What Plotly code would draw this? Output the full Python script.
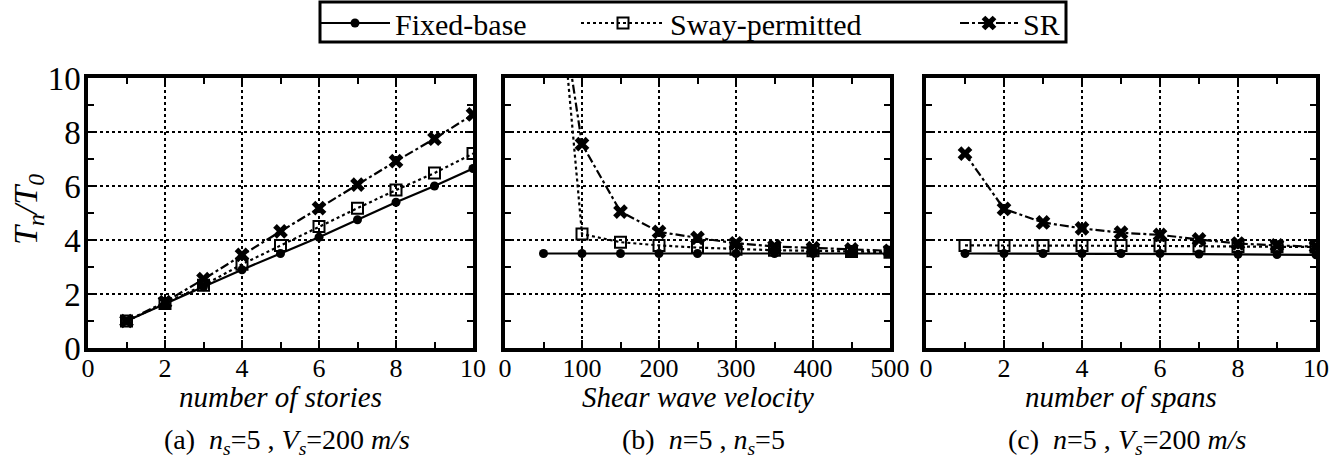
import plotly.graph_objects as go
from plotly.subplots import make_subplots

# ---------------- data ----------------
stories = [1, 2, 3, 4, 5, 6, 7, 8, 9, 10]
a_fixed = [1.0, 1.62, 2.27, 2.9, 3.5, 4.1, 4.75, 5.4, 6.0, 6.65]
a_sway = [1.0, 1.65, 2.32, 3.1, 3.8, 4.5, 5.18, 5.85, 6.48, 7.2]
a_sr = [1.0, 1.7, 2.55, 3.45, 4.32, 5.18, 6.05, 6.92, 7.75, 8.65]

vs = [50, 100, 150, 200, 250, 300, 350, 400, 450, 500]
b_fixed = [3.5, 3.5, 3.5, 3.5, 3.5, 3.5, 3.5, 3.5, 3.5, 3.5]
b_sway = [20.0, 4.22, 3.92, 3.8, 3.72, 3.66, 3.62, 3.6, 3.57, 3.55]
b_sr = [17.0, 7.55, 5.05, 4.3, 4.08, 3.88, 3.76, 3.7, 3.65, 3.6]

spans = [1, 2, 3, 4, 5, 6, 7, 8, 9, 10]
c_fixed = [3.5, 3.5, 3.5, 3.5, 3.5, 3.5, 3.48, 3.47, 3.46, 3.45]
c_sway = [3.8, 3.8, 3.8, 3.8, 3.8, 3.78, 3.77, 3.76, 3.75, 3.74]
c_sr = [7.2, 5.15, 4.65, 4.43, 4.27, 4.19, 4.02, 3.87, 3.8, 3.75]

series_names = ["Fixed-base", "Sway-permitted", "SR"]
captions = [
    "(a)  <i>n<sub>s</sub></i>=5 , <i>V<sub>s</sub></i>=200 <i>m/s</i>",
    "(b)  <i>n</i>=5 , <i>n<sub>s</sub></i>=5",
    "(c)  <i>n</i>=5 , <i>V<sub>s</sub></i>=200 <i>m/s</i>",
]
xtitles = ["number of stories", "Shear wave velocity", "number of spans"]

FONT = "Liberation Serif"
W, H = 1334, 463

fig = make_subplots(rows=1, cols=3)

styles = [
    dict(line=dict(color="black", width=2.2, dash="solid"),
         marker=dict(symbol="circle", size=9, color="black")),
    dict(line=dict(color="black", width=2.2, dash="dot"),
         marker=dict(symbol="square-open", size=11, color="black", line=dict(width=2))),
    dict(line=dict(color="black", width=2.2, dash="dashdot"),
         marker=dict(symbol="x", size=13, color="black", line=dict(width=0))),
]
legend_ids = ["legend", "legend2", "legend3"]

panels = [
    (stories, [a_fixed, a_sway, a_sr]),
    (vs, [b_fixed, b_sway, b_sr]),
    (spans, [c_fixed, c_sway, c_sr]),
]

for col, (xs, ys_list) in enumerate(panels, start=1):
    for k, ys in enumerate(ys_list):
        fig.add_trace(
            go.Scatter(x=xs, y=ys, mode="lines+markers", name=series_names[k],
                       showlegend=(col == 1), legend=legend_ids[k], **styles[k]),
            row=1, col=col,
        )

# pixel geometry -> paper domains
xdoms = [(88, 473), (505, 890), (926, 1316)]
ytop, ybot = 78, 348
ydom = [1 - ybot / H, 1 - ytop / H]

xranges = [[0, 10], [0, 500], [0, 10]]
xdticks = [2, 100, 2]
xminor = [1, 50, 1]

axis_common = dict(
    showline=True, linewidth=3.5, linecolor="black", mirror="ticks",
    ticks="inside", ticklen=8, tickwidth=1.8, tickcolor="black",
    showgrid=True, gridcolor="black", griddash="dot", gridwidth=1.6,
    zeroline=False,
)

for i in range(3):
    xa = "xaxis" if i == 0 else f"xaxis{i+1}"
    ya = "yaxis" if i == 0 else f"yaxis{i+1}"
    fig.layout[xa].update(
        domain=[xdoms[i][0] / W, xdoms[i][1] / W],
        range=xranges[i], dtick=xdticks[i], tick0=0,
        minor=dict(dtick=xminor[i], ticklen=6, ticks="inside", tickcolor="black",
                   tickwidth=1.8, showgrid=False),
        tickfont=dict(family=FONT, size=26, color="black"),
        ticklabelstandoff=-6,
        **axis_common,
    )
    fig.layout[ya].update(
        domain=ydom, range=[0, 10], dtick=2, tick0=0,
        minor=dict(dtick=1, ticklen=6, ticks="inside", tickcolor="black",
                   tickwidth=1.8, showgrid=False),
        showticklabels=(i == 0),
        tickfont=dict(family=FONT, size=33, color="black"),
        ticklabelstandoff=-3,
        **axis_common,
    )
    cx = (xdoms[i][0] + xdoms[i][1]) / 2 / W
    fig.add_annotation(x=cx, y=1 - 397 / H, xref="paper", yref="paper",
                       xanchor="center", yanchor="middle",
                       text=f"<i>{xtitles[i]}</i>", showarrow=False,
                       font=dict(family=FONT, size=29, color="black"))
    fig.add_annotation(x=cx + 6 / W, y=1 - 441 / H, xref="paper", yref="paper",
                       xanchor="center", yanchor="middle",
                       text=captions[i], showarrow=False,
                       font=dict(family=FONT, size=28, color="black"))

fig.add_annotation(x=28 / W, y=1 - 210 / H, xref="paper", yref="paper",
                   xanchor="center", yanchor="middle",
                   text="<i>T<sub>n</sub>/T<sub>0</sub></i>", textangle=-90,
                   showarrow=False, font=dict(family=FONT, size=34, color="black"))

# legend frame
fig.add_shape(type="rect", xref="paper", yref="paper",
              x0=320 / W, x1=1066 / W, y0=1 - 42 / H, y1=1 - 2 / H,
              line=dict(color="black", width=3), fillcolor="rgba(0,0,0,0)")

leg_common = dict(orientation="h", xanchor="left", yanchor="middle", y=1 - 23 / H,
                  borderwidth=0, bgcolor="rgba(0,0,0,0)",
                  font=dict(family=FONT, size=30, color="black"))

fig.update_layout(
    width=W, height=H,
    margin=dict(l=0, r=0, t=0, b=0, autoexpand=False),
    paper_bgcolor="white", plot_bgcolor="white",
    showlegend=True,
    legend=dict(x=315 / W, itemwidth=70, **leg_common),
    legend2=dict(x=576 / W, itemwidth=84, **leg_common),
    legend3=dict(x=955 / W, itemwidth=58, **leg_common),
)

fig.write_html(
    "out.html",
    config={"displayModeBar": False},
    post_script="document.body.style.margin='0';document.body.style.overflow='hidden';",
)
